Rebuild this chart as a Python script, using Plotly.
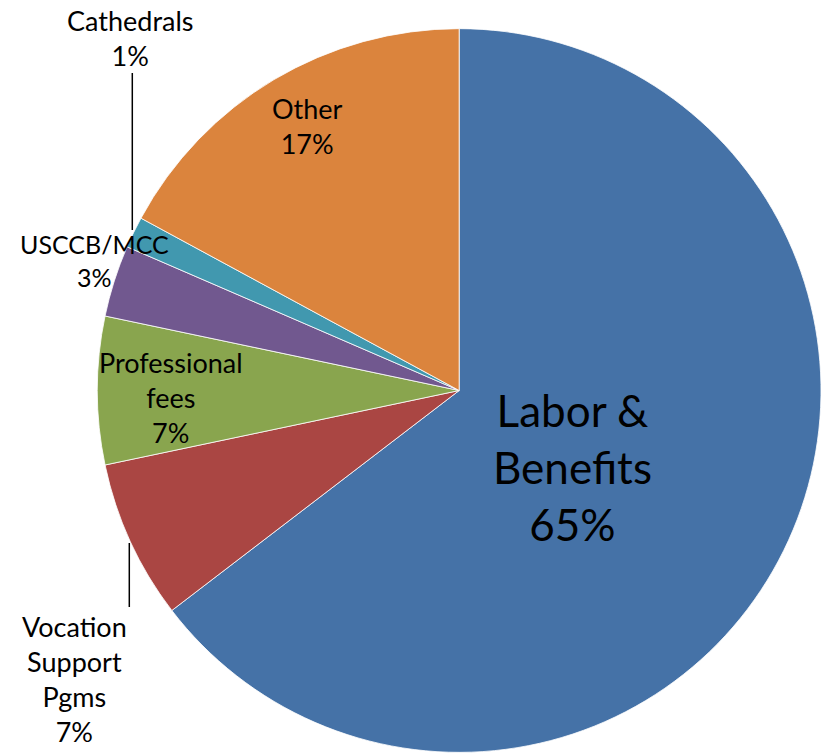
import plotly.graph_objects as go

# ---- data ----
labels = ["Labor &<br>Benefits", "Vocation<br>Support<br>Pgms", "Professional<br>fees",
          "USCCB/MCC", "Cathedrals", "Other"]
values = [64.6, 7.1, 6.6, 3.2, 1.4, 17.1]
colors = ["#4572A7", "#AA4643", "#89A54E", "#71588F", "#4198AF", "#DB843D"]

W, H = 821, 755
FONT = "Lato, Calibri, sans-serif"

total = sum(values)
pct_text = [f"{lab}<br>{round(v / total * 100):d}%" for lab, v in zip(labels, values)]

fig = go.Figure(go.Pie(
    labels=[l.replace("<br>", " ") for l in labels],
    values=values,
    marker=dict(colors=colors, line=dict(color="rgba(255,255,255,0.8)", width=1)),
    sort=False,
    direction="clockwise",
    rotation=0,
    textinfo="none",
    hoverinfo="label+percent",
    domain=dict(x=[97.3 / W, 1.0], y=[(H - 754.5) / H, (H - 26.5) / H]),
    showlegend=False,
))

def px(x):
    return x / W

def py(y):
    return 1 - y / H

# label placement (pixel centres of each text block)
label_pos = [
    (572, 467, 44),   # Labor & Benefits
    (74, 679, 27),    # Vocation Support Pgms
    (171, 397, 27),   # Professional fees
    (94, 260, 25),    # USCCB/MCC
    (130, 38, 27),    # Cathedrals
    (307, 126, 27),   # Other
]
annotations = []
for txt, (x, y, size) in zip(pct_text, label_pos):
    annotations.append(dict(
        x=px(x), y=py(y), xref="paper", yref="paper",
        text=txt, showarrow=False, xanchor="center", yanchor="middle",
        align="center", font=dict(family=FONT, size=size, color="#000000"),
    ))

shapes = [
    dict(type="line", xref="paper", yref="paper",
         x0=px(132.3), x1=px(132.3), y0=py(73), y1=py(230),
         line=dict(color="#000000", width=1.5)),
    dict(type="line", xref="paper", yref="paper",
         x0=px(129.3), x1=px(129.3), y0=py(543), y1=py(607),
         line=dict(color="#000000", width=1.5)),
]

fig.update_layout(
    width=W, height=H,
    margin=dict(l=0, r=0, t=0, b=0),
    paper_bgcolor="#ffffff",
    plot_bgcolor="#ffffff",
    annotations=annotations,
    shapes=shapes,
    font=dict(family=FONT),
)

fig.write_html("out.html")
